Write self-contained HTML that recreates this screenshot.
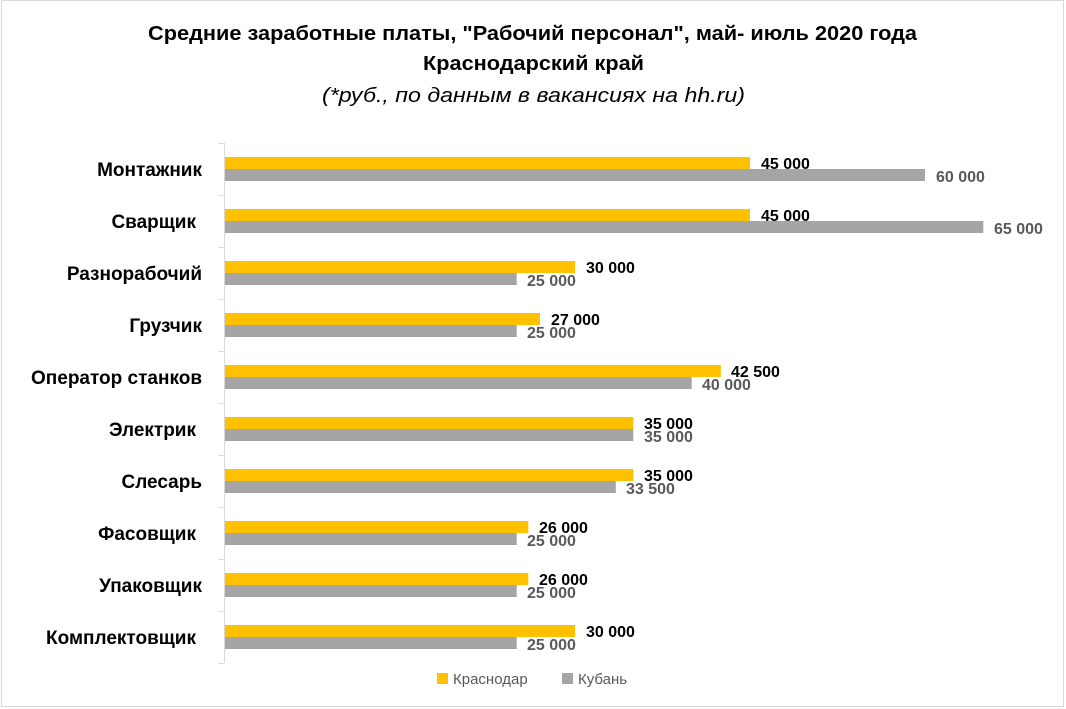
<!DOCTYPE html>
<html><head><meta charset="utf-8"><style>
body{margin:0;background:#fff;}
svg{display:block;font-family:"Liberation Sans",sans-serif;}
</style></head><body>
<svg width="1066" height="709" viewBox="0 0 1066 709" xmlns="http://www.w3.org/2000/svg">
<rect x="1.5" y="0.5" width="1062" height="706" fill="#fff" stroke="#d9d9d9"/>
<g font-weight="bold" font-size="20" fill="#000">
<text x="148" y="40" textLength="769" lengthAdjust="spacingAndGlyphs">Средние заработные платы, "Рабочий персонал", май- июль 2020 года</text>
<text x="423" y="70" textLength="221" lengthAdjust="spacingAndGlyphs">Краснодарский край</text>
<text x="322" y="102" font-weight="normal" font-style="italic" textLength="423" lengthAdjust="spacingAndGlyphs">(*руб., по данным в вакансиях на hh.ru)</text>
</g>
<line x1="224.5" y1="143" x2="224.5" y2="663" stroke="#d9d9d9"/>
<g stroke="#d9d9d9">
<line x1="218" y1="143.5" x2="224" y2="143.5"/><line x1="218" y1="195.5" x2="224" y2="195.5"/>
<line x1="218" y1="247.5" x2="224" y2="247.5"/><line x1="218" y1="299.5" x2="224" y2="299.5"/>
<line x1="218" y1="351.5" x2="224" y2="351.5"/><line x1="218" y1="403.5" x2="224" y2="403.5"/>
<line x1="218" y1="455.5" x2="224" y2="455.5"/><line x1="218" y1="507.5" x2="224" y2="507.5"/>
<line x1="218" y1="559.5" x2="224" y2="559.5"/><line x1="218" y1="611.5" x2="224" y2="611.5"/>
<line x1="218" y1="663.5" x2="224" y2="663.5"/>
</g>
<g font-size="19" font-weight="bold" text-anchor="end">
<text x="202" y="176">Монтажник</text>
<text x="196" y="228">Сварщик</text>
<text x="202" y="280">Разнорабочий</text>
<text x="202" y="332">Грузчик</text>
<text x="202" y="384">Оператор станков</text>
<text x="196" y="436">Электрик</text>
<text x="202" y="488">Слесарь</text>
<text x="196" y="540">Фасовщик</text>
<text x="202" y="592">Упаковщик</text>
<text x="196" y="644">Комплектовщик</text>
</g>
<g fill="#ffc000">
<rect x="225" y="157" width="525" height="12"/>
<rect x="225" y="209" width="525" height="12"/>
<rect x="225" y="261" width="350" height="12"/>
<rect x="225" y="313" width="315" height="12"/>
<rect x="225" y="365" width="495.8" height="12"/>
<rect x="225" y="417" width="408.3" height="12"/>
<rect x="225" y="469" width="408.3" height="12"/>
<rect x="225" y="521" width="303.3" height="12"/>
<rect x="225" y="573" width="303.3" height="12"/>
<rect x="225" y="625" width="350" height="12"/>
</g>
<g fill="#a5a5a5">
<rect x="225" y="169" width="700" height="12"/>
<rect x="225" y="221" width="758.3" height="12"/>
<rect x="225" y="273" width="291.7" height="12"/>
<rect x="225" y="325" width="291.7" height="12"/>
<rect x="225" y="377" width="466.7" height="12"/>
<rect x="225" y="429" width="408.3" height="12"/>
<rect x="225" y="481" width="390.8" height="12"/>
<rect x="225" y="533" width="291.7" height="12"/>
<rect x="225" y="585" width="291.7" height="12"/>
<rect x="225" y="637" width="291.7" height="12"/>
</g>
<g font-size="16" font-weight="bold" fill="#000">
<text x="761" y="169">45 000</text>
<text x="761" y="221">45 000</text>
<text x="586" y="273">30 000</text>
<text x="551" y="325">27 000</text>
<text x="731" y="377">42 500</text>
<text x="644" y="429">35 000</text>
<text x="644" y="481">35 000</text>
<text x="539" y="533">26 000</text>
<text x="539" y="585">26 000</text>
<text x="586" y="637">30 000</text>
</g>
<g font-size="16" font-weight="bold" fill="#595959">
<text x="936" y="182">60 000</text>
<text x="994" y="234">65 000</text>
<text x="527" y="286">25 000</text>
<text x="527" y="338">25 000</text>
<text x="702" y="390">40 000</text>
<text x="644" y="442">35 000</text>
<text x="626" y="494">33 500</text>
<text x="527" y="546">25 000</text>
<text x="527" y="598">25 000</text>
<text x="527" y="650">25 000</text>
</g>
<g font-size="15">
<rect x="437" y="673" width="11" height="11" fill="#ffc000"/>
<text x="453" y="684" fill="#595959">Краснодар</text>
<rect x="562" y="673" width="11" height="11" fill="#a5a5a5"/>
<text x="578" y="684" fill="#595959">Кубань</text>
</g>
</svg>
</body></html>
